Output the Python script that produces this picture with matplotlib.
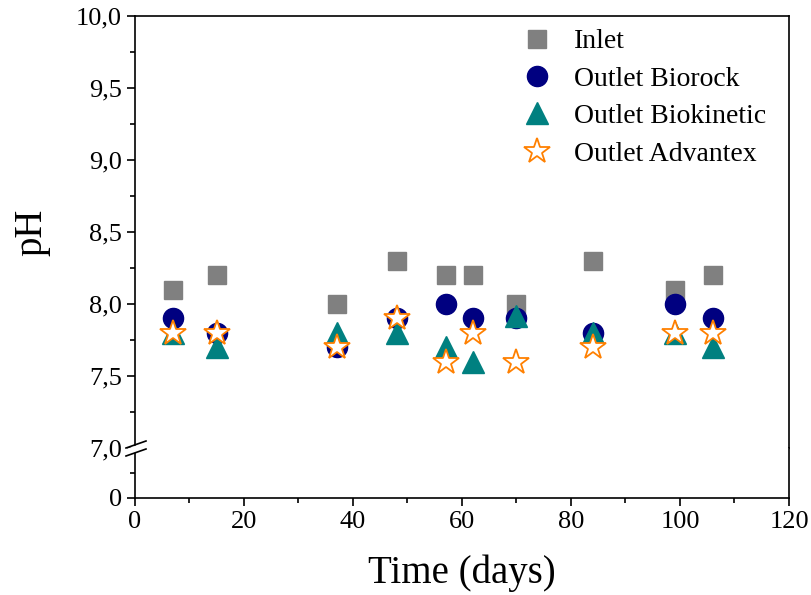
import matplotlib
matplotlib.use('Agg')
import matplotlib.pyplot as plt
from matplotlib.ticker import MultipleLocator, FuncFormatter, FixedLocator
from matplotlib.patches import Polygon
from matplotlib.lines import Line2D

plt.rcParams['font.family'] = ['Liberation Serif', 'DejaVu Serif']

days = [7, 15, 37, 48, 57, 62, 70, 84, 99, 106]
inlet = [8.1, 8.2, 8.0, 8.3, 8.2, 8.2, 8.0, 8.3, 8.1, 8.2]
biorock = [7.9, 7.8, 7.7, 7.9, 8.0, 7.9, 7.9, 7.8, 8.0, 7.9]
biokinetic = [7.8, 7.7, 7.8, 7.8, 7.7, 7.6, 7.92, 7.8, 7.8, 7.7]
advantex = [7.8, 7.8, 7.7, 7.9, 7.6, 7.8, 7.6, 7.7, 7.8, 7.8]

W, H = 812, 595
fig = plt.figure(figsize=(W / 100, H / 100), dpi=100)

left, right = 135 / W, 789 / W
y_top, y_brk, y_bot = 16, 448, 498
ax = fig.add_axes([left, 1 - y_brk / H, right - left, (y_brk - y_top) / H])
axb = fig.add_axes([left, 1 - y_bot / H, right - left, (y_bot - y_brk) / H])

series = [
    (inlet, 'Inlet', dict(marker='s', color='#808080', markersize=13, markeredgecolor='#808080')),
    (biorock, 'Outlet Biorock', dict(marker='o', color='#000080', markersize=14.5, markeredgecolor='#000080')),
    (biokinetic, 'Outlet Biokinetic', dict(marker='^', color='#008080', markersize=16, markeredgecolor='#008080')),
    (advantex, 'Outlet Advantex', dict(marker='*', markerfacecolor='white', markeredgecolor='#FF8000',
                                        markeredgewidth=1.3, markersize=19)),
]
for vals, lab, st in series:
    ax.plot(days, vals, linestyle='none', label=lab, **st)

comma = FuncFormatter(lambda v, p: f'{v:.1f}'.replace('.', ','))

ax.set_xlim(0, 120)
ax.set_ylim(7, 10)
ax.yaxis.set_major_locator(MultipleLocator(0.5))
ax.yaxis.set_minor_locator(MultipleLocator(0.25))
ax.yaxis.set_major_formatter(comma)
ax.set_xticks([])
ax.spines['bottom'].set_visible(False)

axb.set_xlim(0, 120)
axb.set_ylim(0, 7)
axb.yaxis.set_major_locator(FixedLocator([0]))
axb.yaxis.set_minor_locator(FixedLocator([3.5]))
axb.xaxis.set_major_locator(MultipleLocator(20))
axb.xaxis.set_minor_locator(MultipleLocator(10))
axb.spines['top'].set_visible(False)

for a in (ax, axb):
    for s in a.spines.values():
        s.set_linewidth(1.2)
    a.tick_params(which='both', direction='out', top=False, right=False, width=1.2, labelsize=19)
    a.tick_params(which='major', length=6)
    a.tick_params(which='minor', length=3.5)

ax.set_ylabel('pH', fontsize=28, labelpad=18)
axb.set_xlabel('Time (days)', fontsize=28, labelpad=15)

# axis break marks on the left spine
def fy(py):
    return 1 - py / H
x0, x1 = 126 / W, 146 / W
fig.patches.append(Polygon([(x0, fy(y_brk + 1)), (x1, fy(y_brk - 6)), (x1, fy(y_brk + 1)), (x0, fy(y_brk + 8))],
                           closed=True, facecolor='white', edgecolor='none', transform=fig.transFigure, zorder=5))
for off in (-3.5, 4.5):
    fig.lines.append(Line2D([x0, x1], [fy(y_brk + off + 3.5), fy(y_brk + off - 3.5)],
                            color='black', lw=1.2, transform=fig.transFigure, zorder=6))

ax.legend(loc='upper left', bbox_to_anchor=(0.553, 1.015), frameon=False, fontsize=20,
          handletextpad=0.6, labelspacing=0.43, borderaxespad=0.3, handlelength=1.5)

fig.savefig('out.png', dpi=100)
